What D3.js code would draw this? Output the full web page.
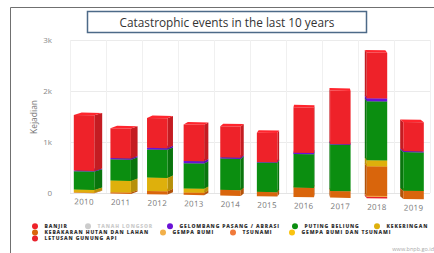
<!DOCTYPE html>
<html>
<head>
<meta charset="utf-8">
<script src="https://cdn.jsdelivr.net/npm/d3@7"></script>
<style>
  body { margin: 0; background: #fff; }
  svg { display: block; font-family: "Open Sans", sans-serif; }
</style>
</head>
<body>
<div id="chart"></div>
<script>
const years = ['2010', '2011', '2012', '2013', '2014', '2015', '2016', '2017', '2018', '2019']

// stacked from the top down, as in the legend (Tanah Longsor is switched off)
const banjir        = [1090, 585, 585, 715, 610, 573, 890, 1045, 897, 571]
const gelombang     = [12, 25, 33, 45, 24, 10, 24, 12, 58, 20]
const putingBeliung = [360, 415, 552, 495, 615, 577, 660, 910, 1157, 755]
const kekeringan    = [55, 230, 260, 78, 0, 0, 0, 0, 117, 0]
const kebakaran     = [10, 25, 65, 47, 111, 85, 183, 130, 579, 162]
const gempaBumi     = [0, 0, 0, 0, 0, 0, 0, 0, 20, 0]
const tsunami       = [0, 0, 0, 0, 0, 0, 0, 0, 0, 0]
const gempaTsunami  = [0, 0, 0, 0, 0, 0, 0, 0, 0, 0]
const letusan       = [0, 0, 0, 0, 0, 0, 0, 0, 30, 0]

const yTicks = [0, 1000, 2000, 3000]
const yTickLabels = ['0', '1k', '2k', '3k']

const legendNames = ['BANJIR', 'TANAH LONGSOR', 'GELOMBANG PASANG / ABRASI', 'PUTING BELIUNG', 'KEKERINGAN',
  'KEBAKARAN HUTAN DAN LAHAN', 'GEMPA BUMI', 'TSUNAMI', 'GEMPA BUMI DAN TSUNAMI', 'LETUSAN GUNUNG API']

const series = [
  { name: 'BANJIR', values: banjir, color: '#ee2229' },
  { name: 'TANAH LONGSOR', values: null, color: '#cccccc' },
  { name: 'GELOMBANG PASANG / ABRASI', values: gelombang, color: '#6a12d6' },
  { name: 'PUTING BELIUNG', values: putingBeliung, color: '#0b8e10' },
  { name: 'KEKERINGAN', values: kekeringan, color: '#deb00c' },
  { name: 'KEBAKARAN HUTAN DAN LAHAN', values: kebakaran, color: '#d9650c' },
  { name: 'GEMPA BUMI', values: gempaBumi, color: '#f2b04a' },
  { name: 'TSUNAMI', values: tsunami, color: '#f07a3a' },
  { name: 'GEMPA BUMI DAN TSUNAMI', values: gempaTsunami, color: '#fac310' },
  { name: 'LETUSAN GUNUNG API', values: letusan, color: '#e8222c' }
]

// legend is a flowing list in the original, these are where each dot sits
const legendSpots = [[35, 0], [88, 0], [170, 0], [295, 0], [377, 0], [35, 1], [163, 1], [233, 1], [292, 1], [35, 2]]

const w = 434
const h = 253

const svg = d3.select('#chart')
  .append('svg')
  .attr('width', w)
  .attr('height', h)

// frame of the screenshot
svg.append('path')
  .attr('d', 'M10.5,253 V7.5 H434')
  .attr('fill', 'none')
  .attr('stroke', '#707070')
  .attr('stroke-width', 1)

const xScale = d3.scaleBand()
  .domain(years)
  .range([70, 430])

const yScale = d3.scaleLinear()
  .domain([0, 3000])
  .range([193, 40])

// grid
const grid = svg.append('g')
grid.selectAll('line.h')
  .data(yTicks)
  .enter()
  .append('line')
  .attr('x1', 70).attr('x2', 430)
  .attr('y1', d => yScale(d) + 0.5).attr('y2', d => yScale(d) + 0.5)
  .attr('stroke', d => d === 0 ? '#e4e4e4' : '#ebebeb')
grid.selectAll('line.v')
  .data(years.concat(['end']))
  .enter()
  .append('line')
  .attr('x1', (d, i) => 70 + i * xScale.step() + 0.5)
  .attr('x2', (d, i) => 70 + i * xScale.step() + 0.5)
  .attr('y1', 40).attr('y2', 193)
  .attr('stroke', '#f0f0f0')

// y axis labels
svg.append('g')
  .selectAll('text')
  .data(yTicks)
  .enter()
  .append('text')
  .attr('x', 52)
  .attr('y', d => yScale(d) + 3)
  .attr('text-anchor', 'end')
  .attr('font-size', 8)
  .attr('fill', '#888')
  .text((d, i) => yTickLabels[i])

svg.append('text')
  .attr('transform', 'translate(37,117) rotate(-90)')
  .attr('text-anchor', 'middle')
  .attr('font-size', 8.5)
  .attr('fill', '#777')
  .text('Kejadian')

// bars, with a little 3d look; the whole floor tilts slightly
const barW = 20.5
const depthY = -2.5
const vanishX = 320
const plot = svg.append('g')
  .attr('transform', 'translate(82,0) skewY(1.05) translate(-82,0)')

const stackOrder = series.filter(s => s.values).reverse()

years.forEach((yr, i) => {
  const cx = xScale(yr) + xScale.bandwidth() / 2
  const dx = (vanishX - cx) * 0.034
  const x0 = cx - barW / 2 - dx / 2
  let acc = 0
  const g = plot.append('g')
  stackOrder.forEach(s => {
    const v = s.values[i]
    if (!v) return
    const yb = yScale(acc)
    const yt = yScale(acc + v)
    acc += v
    const c = d3.color(s.color)
    const sx = dx >= 0 ? x0 + barW : x0
    g.append('polygon')
      .attr('points', [[sx, yt], [sx + dx, yt + depthY], [sx + dx, yb + depthY], [sx, yb]].join(' '))
      .attr('fill', c.darker(0.55))
    g.append('polygon')
      .attr('points', [[x0, yt], [x0 + barW, yt], [x0 + barW + dx, yt + depthY], [x0 + dx, yt + depthY]].join(' '))
      .attr('fill', c.brighter(0.25))
    g.append('rect')
      .attr('x', x0)
      .attr('y', yt)
      .attr('width', barW)
      .attr('height', yb - yt)
      .attr('fill', s.color)
  })
  plot.append('text')
    .attr('x', cx - dx / 2)
    .attr('y', 204.5)
    .attr('text-anchor', 'middle')
    .attr('font-size', 8)
    .attr('letter-spacing', 0.3)
    .attr('fill', '#777')
    .text(yr)
})

// title box
svg.append('rect')
  .attr('x', 87.5).attr('y', 11.5)
  .attr('width', 279).attr('height', 21)
  .attr('fill', '#fff')
  .attr('stroke', '#4d6a88')
  .attr('stroke-width', 1.5)
svg.append('text')
  .attr('x', 227)
  .attr('y', 26.5)
  .attr('text-anchor', 'middle')
  .attr('font-size', 11.8)
  .attr('fill', '#333')
  .text('Catastrophic events in the last 10 years')

// legend
const legend = svg.append('g')
series.forEach((s, i) => {
  const [lx, row] = legendSpots[i]
  const ly = 226.3 + row * 6.1
  legend.append('circle')
    .attr('cx', lx).attr('cy', ly).attr('r', 3)
    .attr('fill', s.color)
  legend.append('text')
    .attr('x', lx + 9.5)
    .attr('y', ly + 1.8)
    .attr('font-size', 5)
    .attr('font-weight', 800)
    .attr('letter-spacing', 0.85)
    .attr('fill', s.values ? '#333' : '#cccccc')
    .text(legendNames[i])
})

svg.append('text')
  .attr('x', 434)
  .attr('y', 251)
  .attr('text-anchor', 'end')
  .attr('font-size', 5.5)
  .attr('fill', '#aaa')
  .text('www.bnpb.go.id')
</script>
</body>
</html>
